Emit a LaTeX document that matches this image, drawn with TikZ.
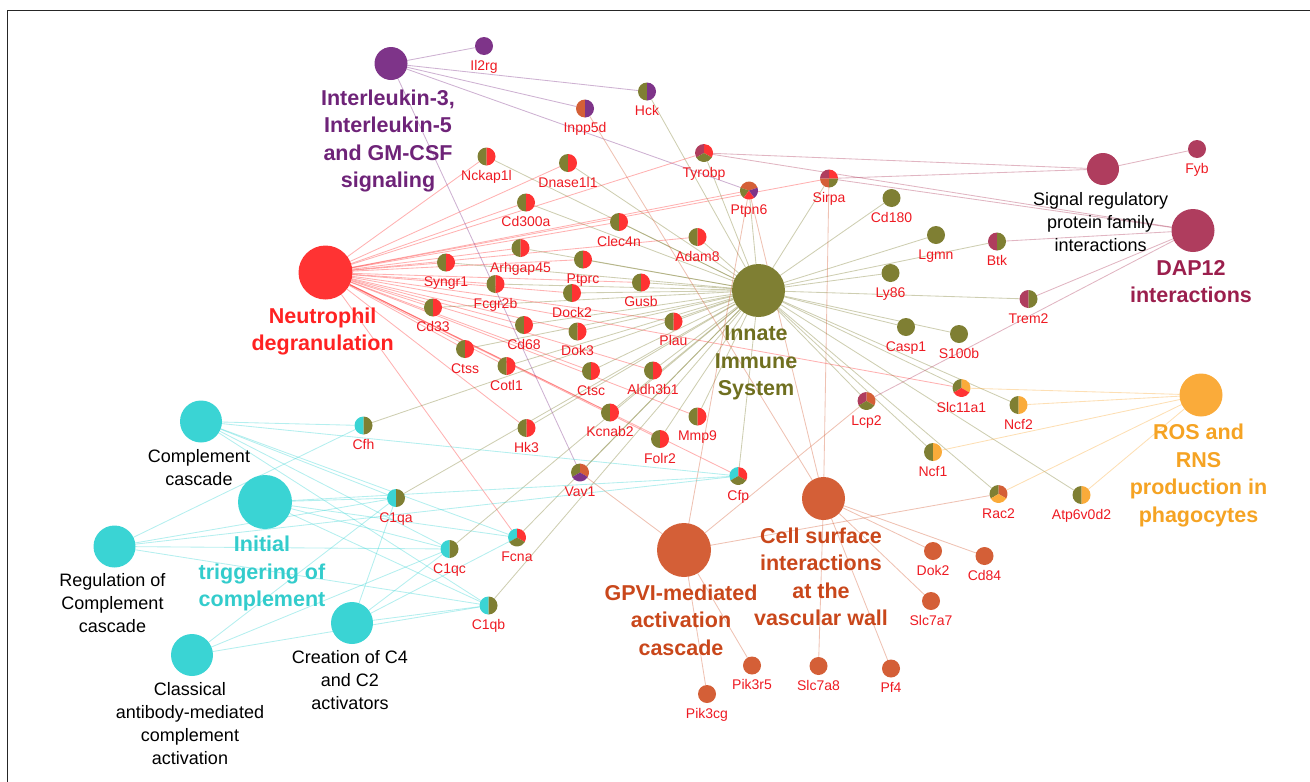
\documentclass[tikz,border=0pt]{standalone}
\usepackage{fontspec}
\setmainfont{Liberation Sans}
\pgfdeclarelayer{edgelayer}
\pgfsetlayers{edgelayer,main}
\definecolor{cPur}{HTML}{7E3489}
\definecolor{cRed}{HTML}{FF3333}
\definecolor{cOli}{HTML}{7F7F33}
\definecolor{cCri}{HTML}{AF3D5E}
\definecolor{cOra}{HTML}{FAAB3A}
\definecolor{cOrr}{HTML}{D45F37}
\definecolor{cCya}{HTML}{3AD4D4}
\definecolor{tPur}{HTML}{6E2378}
\definecolor{tRed}{HTML}{FF2222}
\definecolor{tOli}{HTML}{6F6F1F}
\definecolor{tCri}{HTML}{9B1F4D}
\definecolor{tOra}{HTML}{F5A323}
\definecolor{tOrr}{HTML}{C9471B}
\definecolor{tCya}{HTML}{33CCCC}
\definecolor{gRed}{HTML}{EE1A22}
\tikzset{
  gene/.style={circle, minimum size=18pt, inner sep=0pt, outer sep=0pt},
  hub/.style={circle, minimum size=#1, inner sep=0pt, outer sep=0pt},
  glab/.style={font=\fontsize{14}{16}\selectfont, text=gRed, inner sep=0pt, text height=10pt, text depth=3pt, label distance=5pt},
  hlab/.style={font=\fontsize{21.5}{27.5}\selectfont\bfseries, align=center, inner sep=0pt, anchor=north},
  blab/.style={font=\fontsize{18}{23}\selectfont, align=center, inner sep=0pt, anchor=north, text=black},
  edge/.style={draw=#1, draw opacity=0.38, line width=0.85pt},
}
\newcommand\pieS[4]{\fill[#2] (#1.center) -- ++(#3:9) arc[start angle=#3,end angle=#4,radius=9] -- cycle;}
\newcommand\pieH[3]{\pieS{#1}{#2}{90}{270}\pieS{#1}{#3}{-90}{90}}
\newcommand\pieT[4]{\pieS{#1}{#2}{90}{210}\pieS{#1}{#3}{-30}{90}\pieS{#1}{#4}{210}{330}}
\newcommand\pieO[2]{\fill[#2] (#1.center) circle[radius=9];}
\newcommand\gene[4]{\node[gene,label={[glab]below:#4}] (#1) at (#2,-#3) {};}
\begin{document}
\begin{tikzpicture}[x=1pt,y=1pt]
\useasboundingbox (0,0) rectangle (1310,-782);
\draw[line width=1.3pt, black!85] (7.5,-782) -- (7.5,-10.5) -- (1310,-10.5);
% hubs
\node[hub=33pt, fill=cPur] (IL3) at (391,-63.5) {};
\node[hub=54pt, fill=cRed] (Neut) at (325.5,-272.5) {};
\node[hub=53pt, fill=cOli] (Inn) at (758.5,-290.5) {};
\node[hub=32pt, fill=cCri] (Sig) at (1103,-169) {};
\node[hub=43pt, fill=cCri] (DAP) at (1193,-230.5) {};
\node[hub=43pt, fill=cOra] (ROS) at (1201,-395) {};
\node[hub=43pt, fill=cOrr] (Cell) at (823.5,-498.5) {};
\node[hub=54pt, fill=cOrr] (GPVI) at (684,-550) {};
\node[hub=42pt, fill=cCya] (CC) at (201,-421.5) {};
\node[hub=54pt, fill=cCya] (IT) at (265,-502) {};
\node[hub=42pt, fill=cCya] (RC) at (114.5,-546.5) {};
\node[hub=42pt, fill=cCya] (CA) at (192,-655) {};
\node[hub=42pt, fill=cCya] (CR) at (352,-623) {};
% hub labels
\node[hlab, text=tPur] (lIL3) at (388,-89.3) {Interleukin-3,\\Interleukin-5\\and GM-CSF\\signaling};
\node[hlab, text=tRed] (lNeut) at (322.6,-307.3) {Neutrophil\\degranulation};
\node[hlab, text=tOli] (lInn) at (756,-325.6) {Innate\\Immune\\System};
\node[blab] (lSig) at (1100.7,-192.6) {Signal regulatory\\protein family\\interactions};
\node[hlab, text=tCri] (lDAP) at (1191,-259.8) {DAP12\\interactions};
\node[hlab, text=tOra] (lROS) at (1198.5,-424) {ROS and\\RNS\\production in\\phagocytes};
\node[hlab, text=tOrr] (lCell) at (821,-527.3) {Cell surface\\interactions\\at the\\vascular wall};
\node[hlab, text=tOrr] (lGPVI) at (681,-584.3) {GPVI-mediated\\activation\\cascade};
\node[blab] (lCC) at (199,-449.6) {Complement\\cascade};
\node[hlab, text=tCya] (lIT) at (262,-535.8) {Initial\\triggering of\\complement};
\node[blab] (lRC) at (112.5,-573.6) {Regulation of\\Complement\\cascade};
\node[blab] (lCA) at (190,-682.6) {Classical\\antibody-mediated\\complement\\activation};
\node[blab] (lCR) at (350,-650.6) {Creation of C4\\and C2\\activators};
% genes
\gene{Il2rg}{484}{46}{Il2rg}
\gene{Hck}{647}{91.5}{Hck}
\gene{Inpp5d}{585}{108.5}{Inpp5d}
\gene{Nckap1l}{486.5}{156.5}{Nckap1l}
\gene{Dnase1l1}{568}{163}{Dnase1l1}
\gene{Tyrobp}{704}{153}{Tyrobp}
\gene{Ptpn6}{749}{190.5}{Ptpn6}
\gene{Sirpa}{829}{178.5}{Sirpa}
\gene{Cd180}{891.5}{198}{Cd180}
\gene{Fyb}{1197}{149}{Fyb}
\gene{Cd300a}{526}{202.5}{Cd300a}
\gene{Clec4n}{619}{222}{Clec4n}
\gene{Adam8}{697.5}{237}{Adam8}
\gene{Lgmn}{936}{235}{Lgmn}
\gene{Btk}{997}{241.5}{Btk}
\gene{Arhgap45}{520.5}{248}{Arhgap45}
\gene{Syngr1}{446}{262.5}{Syngr1}
\gene{Ptprc}{583}{259.5}{Ptprc}
\gene{Gusb}{641}{282.5}{Gusb}
\gene{Fcgr2b}{495.5}{284}{Fcgr2b}
\gene{Dock2}{572}{293}{Dock2}
\gene{Ly86}{890.5}{273}{Ly86}
\gene{Trem2}{1028.5}{299}{Trem2}
\gene{Cd33}{433}{307.5}{Cd33}
\gene{Cd68}{524}{325}{Cd68}
\gene{Dok3}{577.5}{331.5}{Dok3}
\gene{Plau}{673.5}{321.5}{Plau}
\gene{Casp1}{906}{327}{Casp1}
\gene{S100b}{959}{334}{S100b}
\gene{Ctss}{465}{349}{Ctss}
\gene{Cotl1}{506.5}{366}{Cotl1}
\gene{Ctsc}{591}{371}{Ctsc}
\gene{Aldh3b1}{653}{370.5}{Aldh3b1}
\gene{Slc11a1}{961.5}{388}{Slc11a1}
\gene{Lcp2}{866.5}{401}{Lcp2}
\gene{Ncf2}{1018.5}{405}{Ncf2}
\gene{Hk3}{526.5}{428}{Hk3}
\gene{Kcnab2}{610}{412.5}{Kcnab2}
\gene{Mmp9}{697.5}{416.5}{Mmp9}
\gene{Folr2}{660}{439}{Folr2}
\gene{Cfh}{363.5}{425.5}{Cfh}
\gene{Ncf1}{933}{452}{Ncf1}
\gene{Vav1}{580}{472.5}{Vav1}
\gene{Cfp}{738.3}{476}{Cfp}
\gene{Rac2}{998.5}{494}{Rac2}
\gene{Atp6v0d2}{1081.5}{495}{Atp6v0d2}
\gene{C1qa}{396}{498}{C1qa}
\gene{Fcna}{517}{537.5}{Fcna}
\gene{C1qc}{449.5}{549}{C1qc}
\gene{C1qb}{488.5}{605.5}{C1qb}
\gene{Dok2}{933}{551}{Dok2}
\gene{Cd84}{984.5}{556}{Cd84}
\gene{Slc7a7}{931}{601}{Slc7a7}
\gene{Pik3r5}{752}{665.5}{Pik3r5}
\gene{Slc7a8}{818.5}{666}{Slc7a8}
\gene{Pf4}{891}{668.5}{Pf4}
\gene{Pik3cg}{707}{694}{Pik3cg}
\def\RO{Nckap1l,Dnase1l1,Cd300a,Clec4n,Adam8,Arhgap45,Syngr1,Ptprc,Gusb,Fcgr2b,Dock2,Cd33,Cd68,Dok3,Plau,Ctss,Cotl1,Ctsc,Aldh3b1,Hk3,Kcnab2,Mmp9,Folr2}
% edges
\begin{pgfonlayer}{edgelayer}
\foreach \g in \RO {\draw[edge=cRed] (Neut) -- (\g); \draw[edge=cOli] (Inn) -- (\g);}
\foreach \g in {Tyrobp,Ptpn6,Sirpa,Slc11a1,Cfp,Fcna} \draw[edge=cRed] (Neut) -- (\g);
\foreach \g in {Hck,Tyrobp,Ptpn6,Sirpa,Cd180,Lgmn,Btk,Ly86,Trem2,Casp1,S100b,Slc11a1,Lcp2,Ncf2,Ncf1,Rac2,Atp6v0d2,Vav1,Cfp,Fcna,Cfh,C1qa,C1qb,C1qc} \draw[edge=cOli] (Inn) -- (\g);
\foreach \g in {Il2rg,Hck,Inpp5d,Ptpn6,Vav1} \draw[edge=cPur] (IL3) -- (\g);
\foreach \g in {Fyb,Tyrobp,Sirpa} \draw[edge=cCri] (Sig) -- (\g);
\foreach \g in {Tyrobp,Sirpa,Btk,Trem2,Lcp2} \draw[edge=cCri] (DAP) -- (\g);
\foreach \g in {Slc11a1,Ncf2,Ncf1,Rac2,Atp6v0d2} \draw[edge=cOra] (ROS) -- (\g);
\foreach \g in {Ptpn6,Vav1,Lcp2,Rac2,Pik3r5,Pik3cg} \draw[edge=cOrr] (GPVI) -- (\g);
\foreach \g in {Sirpa,Dok2,Cd84,Slc7a7,Slc7a8,Pf4,Inpp5d,Ptpn6} \draw[edge=cOrr] (Cell) -- (\g);
\foreach \g in {Cfh,C1qa,C1qb,C1qc,Fcna,Cfp} \draw[edge=cCya] (CC) -- (\g);
\foreach \g in {C1qa,C1qb,C1qc,Fcna,Cfp} \draw[edge=cCya] (IT) -- (\g);
\foreach \g in {Cfh,C1qa,C1qb,C1qc,Cfp} \draw[edge=cCya] (RC) -- (\g);
\foreach \g in {C1qa,C1qb,C1qc} \draw[edge=cCya] (CA) -- (\g);
\foreach \g in {C1qa,C1qb,C1qc,Fcna} \draw[edge=cCya] (CR) -- (\g);
\end{pgfonlayer}
% pies
\pieO{Il2rg}{cPur}\pieO{Fyb}{cCri}
\foreach \g in {Cd180,Lgmn,Ly86,Casp1,S100b} {\pieO{\g}{cOli}}
\foreach \g in {Dok2,Cd84,Slc7a7,Pik3r5,Slc7a8,Pf4,Pik3cg} {\pieO{\g}{cOrr}}
\foreach \g in \RO {\pieH{\g}{cOli}{cRed}}
\pieH{Hck}{cOli}{cPur}
\pieH{Inpp5d}{cOrr}{cPur}
\pieH{Btk}{cCri}{cOli}
\pieH{Trem2}{cCri}{cOli}
\foreach \g in {Cfh,C1qa,C1qb,C1qc} {\pieH{\g}{cCya}{cOli}}
\foreach \g in {Ncf2,Ncf1,Atp6v0d2} {\pieH{\g}{cOli}{cOra}}
\pieT{Tyrobp}{cCri}{cRed}{cOli}
\pieT{Lcp2}{cCri}{cOrr}{cOli}
\pieT{Slc11a1}{cOli}{cOra}{cRed}
\pieT{Rac2}{cOli}{cOrr}{cOra}
\pieT{Vav1}{cOli}{cOrr}{cPur}
\pieT{Cfp}{cCya}{cRed}{cOli}
\pieT{Fcna}{cCya}{cRed}{cOli}
\pieS{Sirpa}{cRed}{0}{90}\pieS{Sirpa}{cCri}{90}{180}\pieS{Sirpa}{cOrr}{180}{270}\pieS{Sirpa}{cOli}{270}{360}
\pieS{Ptpn6}{cOrr}{18}{162}\pieS{Ptpn6}{cOli}{162}{234}\pieS{Ptpn6}{cRed}{234}{306}\pieS{Ptpn6}{cPur}{306}{378}
\end{tikzpicture}
\end{document}
